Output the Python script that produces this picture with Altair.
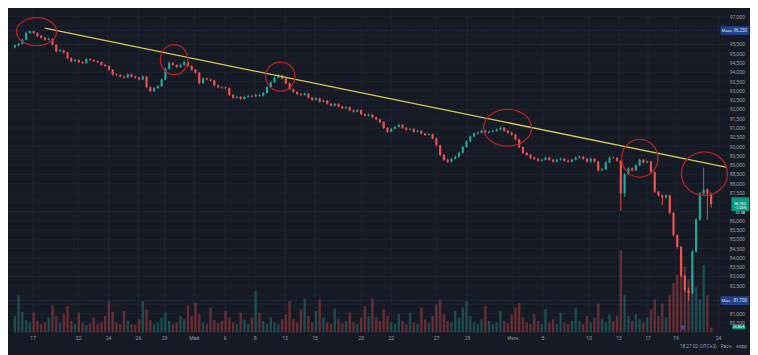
import altair as alt
import pandas as pd

# ---------------- data ----------------
first_open = 95340
closes = [95440,95540,95750,96120,96220,96120,95960,95860,95750,95800,
          95490,95130,95180,95070,94760,94600,94660,94550,94500,94710,
          94660,94600,94550,94400,94340,94140,93880,93850,93770,93720,
          93880,93770,93720,93610,93770,93200,92990,93150,93250,93610,
          94190,94500,94400,94290,94400,94550,94340,94140,93980,93410,
          93670,93610,93560,93300,93200,93180,93150,92780,92630,92680,
          92570,92680,92730,92700,92780,92730,92890,93200,93460,93720,
          93820,93670,93410,93090,92940,92830,92780,92850,92640,92520,
          92600,92420,92470,92310,92200,92300,92160,92060,92120,91950,
          91880,91960,91740,91660,91720,91580,91460,91320,91010,90800,
          90960,91060,91170,91010,90910,90950,90800,90850,90700,90620,
          90660,90440,90070,89550,89290,89190,89340,89450,89660,89970,
          90280,90540,90700,90750,90850,90750,90800,90850,90910,91010,
          90850,90750,90650,90390,89970,89660,89550,89400,89340,89240,
          89290,89400,89290,89190,89290,89340,89240,89190,89290,89400,
          89450,89340,89190,89340,89190,88720,88770,89140,89400,89380,
          89240,87470,88510,88820,88720,88980,89290,89140,89190,88620,
          87570,87370,87260,87370,86430,85230,84600,83040,82260,82110,
          84340,86060,87470,87680,87470,86900]
highs = [95520,95600,95820,96180,96250,96240,96170,96020,95900,95880,
         95840,95520,95260,95230,95110,94810,94740,94700,94600,94780,
         94760,94700,94640,94590,94450,94380,94170,93950,93900,93820,
         93950,93920,93810,93760,93840,93800,93240,93210,93320,93680,
         94250,94600,94560,94440,94480,94640,94590,94380,94190,94020,
         93740,93720,93660,93600,93350,93260,93240,93190,92830,92750,
         92720,92740,92790,92780,92840,92820,92950,93260,93520,93790,
         93910,93870,93710,93450,93130,92990,92880,92910,92890,92680,
         92660,92640,92530,92510,92360,92350,92340,92200,92180,92160,
         92000,92020,92000,91790,91780,91760,91620,91500,91360,91050,
         91020,91120,91240,91210,91060,91010,90990,90910,90890,90740,
         90720,90700,90480,90110,89600,89340,89400,89520,89720,90040,
         90350,90600,90770,90820,90920,90900,90870,90920,90980,91080,
         91060,90900,90800,90690,90430,90010,89710,89600,89460,89390,
         89360,89470,89450,89340,89360,89410,89390,89300,89360,89470,
         89520,89500,89390,89410,89390,89230,88850,89210,89470,89460,
         89430,89280,88580,88890,88880,89050,89360,89340,89260,89230,
         88660,87620,87420,87440,87410,86470,85280,84650,83100,82400,
         84420,86150,87550,88860,87760,87520]
lows = [95290,95400,95500,95720,96080,96060,95900,95810,95690,95710,
        95440,95060,95080,95010,94700,94540,94560,94490,94440,94460,
        94610,94550,94490,94350,94280,94080,93820,93790,93720,93660,
        93680,93720,93660,93560,93570,93140,92920,92950,93100,93210,
        93570,94150,94350,94230,94250,94360,94290,94080,93920,93340,
        93370,93560,93500,93240,93140,93120,93090,92720,92570,92580,
        92510,92530,92640,92650,92660,92680,92690,92850,93160,93420,
        93680,93610,93350,93030,92880,92770,92720,92740,92590,92470,
        92480,92370,92380,92260,92150,92160,92110,92010,92020,91900,
        91830,91840,91690,91610,91620,91530,91410,91260,90950,90730,
        90760,90920,91020,90960,90850,90870,90740,90760,90640,90570,
        90580,90380,90000,89480,89220,89120,89140,89300,89410,89620,
        89930,90240,90500,90650,90700,90700,90710,90760,90800,90870,
        90790,90690,90590,90330,89900,89590,89490,89340,89280,89180,
        89190,89250,89230,89130,89140,89240,89180,89130,89140,89250,
        89350,89280,89130,89140,89130,88650,88670,88730,89100,89320,
        89180,86530,87300,88460,88660,88680,88940,89080,89090,88550,
        87500,87300,86840,87200,86350,85150,84500,82950,82150,81700,
        82050,84280,86000,87400,86050,86700]
volumes = [20,45,25,15,12,24,14,10,12,18,
           33,20,12,22,32,14,10,24,12,9,
           11,18,10,12,20,38,25,12,10,26,
           14,10,9,16,38,28,15,10,12,18,
           24,14,10,12,20,16,33,20,36,22,
           12,10,30,15,11,14,26,18,12,10,
           24,15,10,18,50,24,14,10,18,12,
           10,16,22,38,16,12,28,41,20,12,
           26,40,18,12,10,29,16,11,14,24,
           12,10,18,32,20,41,18,14,28,20,
           12,10,22,14,10,24,12,10,30,16,
           12,20,34,40,22,14,12,26,18,30,
           38,20,12,10,16,32,14,10,12,26,
           14,11,22,30,36,18,12,10,22,14,
           10,28,12,16,10,24,12,10,14,30,
           14,10,20,12,18,35,16,12,22,14,
           20,100,45,20,14,22,16,12,18,28,
           40,20,35,18,45,60,70,95,80,65,
           75,55,40,82,45,6]

tick_pos = [5.38, 17.44, 25.38, 33.33, 40.26, 48.2, 56.4, 64.36, 72.3, 80.26,
            92.56, 100.5, 112.56, 120.77, 132.82, 140.77, 153.08, 161.03, 168.72, 176.15, 187.44]
tick_labels = ["17", "22", "24", "26", "29", "Май", "6", "8", "13", "15",
               "20", "22", "27", "29", "Июн", "5", "10", "13", "17", "19", "24"]
price_ticks = [80500, 81000, 81500, 82000, 82500, 83000, 83500, 84000, 84500, 85000,
               85500, 86000, 86500, 87000, 87500, 88000, 88500, 89000, 89500, 90000,
               90500, 91000, 91500, 92000, 92500, 93000, 93500, 94000, 94500, 95000,
               95500, 96000, 96500, 97000]

trend_t = [8.46, 189.74]
trend_p = [96375, 88875]

ring_t = [6.28, 42.82, 71.03, 131.41, 166.54, 183.72]
ring_p = [96190, 94680, 93770, 91010, 89370, 88540]
ring_rx = [20.5, 14, 15, 24.5, 18.5, 23.5]   # style: ellipse radii in px
ring_ry = [14.5, 15.5, 15, 19, 19.5, 22.5]

event_t = [177.9]

# ---------------- styles / layout ----------------
BG = "#161a25"
GRID = "#1e222e"
UP = "#26a69a"
DOWN = "#ef5350"
TXT = "#9a9ea8"
FONT = "Roboto"
SX, SY = 750 / 758, 347 / 355      # page keeps an 8px margin: fit 758x355 design into 750x347
W, H = 727, 326
PAD_R, PAD_B = 750 - W, 347 - H


def px(v):
    return v * SX


def py(v):
    return v * SY


n = len(closes)
opens = [first_open] + closes[:-1]
candles = pd.DataFrame({
    "t": [i + 0.5 for i in range(n)],
    "open": opens, "close": closes, "high": highs, "low": lows,
    "vol": volumes,
    "dir": ["up" if c >= o else "down" for o, c in zip(opens, closes)],
})

xs = alt.Scale(domain=[0, 188.46], nice=False, zero=False)
ys = alt.Scale(domain=[79990, 97365], nice=False, zero=False)
vs = alt.Scale(domain=[0, 392], nice=False, zero=True)
X = alt.X("t:Q", scale=xs, axis=None)
col = alt.Color("dir:N", scale=alt.Scale(domain=["up", "down"], range=[UP, DOWN]), legend=None)

ticks_df = pd.DataFrame({"t": tick_pos, "lab": tick_labels})
prices_df = pd.DataFrame({"p": price_ticks})

max_p, min_p, last_p = max(highs), min(lows), closes[-1]
hidden = [max_p, min_p, last_p]
labels_df = prices_df[[all(abs(p - h) > (420 if h == last_p else 300) for h in hidden) for p in prices_df["p"]]]

hgrid = alt.Chart(prices_df).mark_rule(color=GRID, strokeWidth=1).encode(
    y=alt.Y("p:Q", scale=ys, axis=None), x=alt.value(0), x2=alt.value(W))
vgrid = alt.Chart(ticks_df).mark_rule(color=GRID, strokeWidth=1).encode(
    x=X, y=alt.value(0), y2=alt.value(H))

vol = alt.Chart(candles).mark_bar(width=2.4, opacity=0.36).encode(
    x=X, y=alt.Y("vol:Q", scale=vs, axis=None), color=col)
wick = alt.Chart(candles).mark_rule(strokeWidth=0.9).encode(
    x=X, y=alt.Y("high:Q", scale=ys, axis=None), y2="low:Q", color=col)
body = alt.Chart(candles).mark_bar(width=2.2).encode(
    x=X, y=alt.Y("open:Q", scale=ys, axis=None), y2="close:Q", color=col)

trend = alt.Chart(pd.DataFrame({"t": trend_t, "p": trend_p})).mark_line(
    color="#d6cd58", strokeWidth=1.3, clip=False).encode(
    x=X, y=alt.Y("p:Q", scale=ys, axis=None))

rx_s = [r * SX for r in ring_rx]
ry_s = [r * SY for r in ring_ry]
rings_df = pd.DataFrame({
    "t": ring_t, "p": ring_p,
    "shape": [f"M {-a/b:.3f} 0 A {a/b:.3f} 1 0 1 0 {a/b:.3f} 0 A {a/b:.3f} 1 0 1 0 {-a/b:.3f} 0 Z"
              for a, b in zip(rx_s, ry_s)],
    "sz": [(2 * b) ** 2 for b in ry_s],
})
rings = alt.Chart(rings_df).mark_point(filled=False, color="#b3232a", strokeWidth=1.3, opacity=1).encode(
    x=X, y=alt.Y("p:Q", scale=ys, axis=None),
    shape=alt.Shape("shape:N", scale=None), size=alt.Size("sz:Q", scale=None))

plabels = alt.Chart(labels_df).mark_text(fontSize=5.1, color=TXT, font=FONT, align="center", baseline="middle").encode(
    y=alt.Y("p:Q", scale=ys, axis=None), x=alt.value(px(745)), text=alt.Text("p:Q", format=","))
tlabels = alt.Chart(ticks_df).mark_text(fontSize=5.1, color=TXT, font=FONT, align="center", baseline="middle").encode(
    x=X, y=alt.value(py(339)), text="lab:N")

# high / low markers
hl_df = pd.DataFrame({"p": [max_p, min_p], "name": ["Макс.", "Мин."]})
hl_df["val"] = hl_df["p"].map(lambda v: f"{v:,.0f}")
hl_lines = alt.Chart(hl_df).mark_rule(color="#3a5fc8", strokeWidth=0.8, strokeDash=[1, 2], opacity=0.5).encode(
    y=alt.Y("p:Q", scale=ys, axis=None), x=alt.value(0), x2=alt.value(W))
hl_box = alt.Chart(hl_df).transform_calculate(
    hi="datum.p + 235", lo="datum.p - 235").mark_rect(color="#23418a").encode(
    y=alt.Y("hi:Q", scale=ys, axis=None), y2="lo:Q", x=alt.value(px(728)), x2=alt.value(px(757)))
hl_name = alt.Chart(hl_df).mark_text(fontSize=4.2, color="#dfe3ee", font=FONT, align="left", baseline="middle").encode(
    y=alt.Y("p:Q", scale=ys, axis=None), x=alt.value(px(729)), text="name:N")
hl_val = alt.Chart(hl_df).mark_text(fontSize=4.5, color="#dfe3ee", font=FONT, align="center", baseline="middle").encode(
    y=alt.Y("p:Q", scale=ys, axis=None), x=alt.value(px(748)), text="val:N")

# last price box
last_df = pd.DataFrame({"p": [last_p], "txt": [f"{last_p:,.0f}\n−2.45%\n32:58"]})
last_box = alt.Chart(last_df).transform_calculate(
    hi="datum.p + 370", lo="datum.p - 370").mark_rect(color="#089981").encode(
    y=alt.Y("hi:Q", scale=ys, axis=None), y2="lo:Q", x=alt.value(px(739)), x2=alt.value(px(757)))
last_txt = alt.Chart(last_df).mark_text(fontSize=3.9, color="#ffffff", font=FONT, align="center",
                                         baseline="middle", lineBreak="\n", lineHeight=4.3).encode(
    y=alt.Y("p:Q", scale=ys, axis=None), x=alt.value(px(748)), text="txt:N")

# last volume box
lv_df = pd.DataFrame({"v": [volumes[-1]], "txt": ["25.86 K"]})
lv_box = alt.Chart(lv_df).transform_calculate(hi="datum.v + 2.6", lo="datum.v - 2.4").mark_rect(color="#089981").encode(
    y=alt.Y("hi:Q", scale=vs, axis=None), y2="lo:Q", x=alt.value(px(740)), x2=alt.value(px(753)))
lv_txt = alt.Chart(lv_df).mark_text(fontSize=3.6, color="#ffffff", font=FONT, align="center", baseline="middle").encode(
    y=alt.Y("v:Q", scale=vs, axis=None), x=alt.value(px(746.5)), text="txt:N")

event = alt.Chart(pd.DataFrame({"t": event_t})).mark_point(shape="circle", size=20, filled=True,
                                                            color="#3d4fc4", opacity=0.9).encode(
    x=X, y=alt.value(H - 5))

status_df = pd.DataFrame({"txt": ["18:27:02 (UTC+3)", "Расч.", "корр"]})
status1 = alt.Chart(status_df.iloc[[0]]).mark_text(fontSize=4.8, color=TXT, font=FONT, align="right", baseline="middle").encode(
    x=alt.value(px(724)), y=alt.value(py(349)), text="txt:N")
status2 = alt.Chart(status_df.iloc[[1]]).mark_text(fontSize=4.8, color=TXT, font=FONT, align="left", baseline="middle").encode(
    x=alt.value(px(728)), y=alt.value(py(349)), text="txt:N")
status3 = alt.Chart(status_df.iloc[[2]]).mark_text(fontSize=4.8, color=TXT, font=FONT, align="left", baseline="middle").encode(
    x=alt.value(px(744)), y=alt.value(py(349)), text="txt:N")

chart = alt.layer(
    hgrid, vgrid, vol, hl_lines, wick, body, trend, rings,
    plabels, tlabels, hl_box, hl_name, hl_val, last_box, last_txt, lv_box, lv_txt,
    event, status1, status2, status3,
).resolve_scale(y="independent").properties(
    width=W, height=H,
    padding={"left": 0, "top": 0, "right": PAD_R, "bottom": PAD_B},
    autosize=alt.AutoSizeParams(type="none"),
    background=BG,
).configure_view(stroke=None)

chart.save("out.html", embed_options={"renderer": "svg", "actions": False})
